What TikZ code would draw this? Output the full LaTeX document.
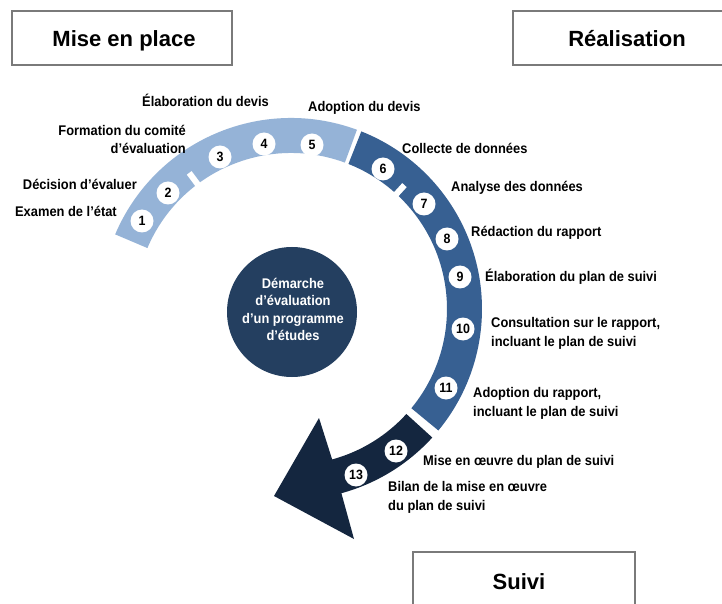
\documentclass[tikz,border=0pt]{standalone}
\usepackage{fontspec}
\setmainfont{Liberation Sans}
\newfontfamily\labfont{Liberation Sans}[FakeStretch=0.92]
\definecolor{lightb}{HTML}{95B3D7}
\definecolor{medb}{HTML}{376092}
\definecolor{navyb}{HTML}{14263F}
\definecolor{circb}{HTML}{243F60}
\definecolor{boxgray}{HTML}{7A7A7A}
\begin{document}
\begin{tikzpicture}[x=1pt,y=1pt,
  lbl/.style={font=\labfont\bfseries\fontsize{14}{18.5}\selectfont, inner sep=0pt, text=black},
  num/.style={circle, fill=white, minimum size=23pt, inner sep=0pt, font=\labfont\bfseries\fontsize{13.5}{14}\selectfont},
  hbox/.style={draw=boxgray, line width=1.2pt},
  head/.style={font=\bfseries\fontsize{22}{26}\selectfont, inner sep=0pt},
  notch/.style={white, line width=6pt}]
\clip (0,0) rectangle (722,603);
\fill[white] (0,0) rectangle (722,603);

% phase boxes
\draw[hbox] (12,538) rectangle (232,592);
\node[head, anchor=base] (h1) at (124,556) {Mise en place};
\draw[hbox] (513,538) rectangle (740,592);
\node[head, anchor=base] (h2) at (627,556) {Réalisation};
\draw[hbox] (413,-10) rectangle (635,51);
\node[head, anchor=base] (h3) at (519,14) {Suivi};

% band
\begin{scope}[shift={(291,294)}]
\fill[lightb] (157:191) arc[start angle=157, end angle=69.8, radius=191]
  -- (69.8:156) arc[start angle=69.8, end angle=157, radius=156] -- cycle;
\fill[medb] (68.4:191) arc[start angle=68.4, end angle=-39.5, radius=191]
  -- (-39.5:156) arc[start angle=-39.5, end angle=68.4, radius=156] -- cycle;
\fill[navyb] (-42.3:191) arc[start angle=-42.3, end angle=-74.7, radius=191]
  -- (63,-230) -- (-17,-187) -- (28,-109)
  -- (-74.7:156) arc[start angle=-74.7, end angle=-42.3, radius=156] -- cycle;
\draw[notch] (126.8:153) -- (126.8:170);
\draw[notch] (47.5:153) -- (47.5:168);
\end{scope}

% centre
\node[circle, fill=circb, minimum size=130pt, inner sep=0pt] (centre) at (292,291) {};
\node[lbl, text=white, align=center, font=\labfont\bfseries\fontsize{14}{17.4}\selectfont] (ctext) at (293,293.5)
  {Démarche\\d’évaluation\\d’un programme\\d’études};

% numbers
\node[num] (n1) at (142,382) {1};
\node[num] (n2) at (168,410) {2};
\node[num] (n3) at (220,446) {3};
\node[num] (n4) at (264,459) {4};
\node[num] (n5) at (312,458) {5};
\node[num] (n6) at (383,434) {6};
\node[num] (n7) at (424,399) {7};
\node[num] (n8) at (447,364) {8};
\node[num] (n9) at (460,326) {9};
\node[num] (n10) at (463,274) {10};
\node[num] (n11) at (446,215) {11};
\node[num] (n12) at (396,152) {12};
\node[num] (n13) at (356,128) {13};

% labels (multi-line nodes: base = last line)
\node[lbl, anchor=base east] (l1) at (117,386) {Examen de l’état};
\node[lbl, anchor=base east] (l2) at (137,413) {Décision d’évaluer};
\node[lbl, anchor=base east, align=right] (l3) at (186,449) {Formation du comité\\d’évaluation};
\node[lbl, anchor=base west] (l4) at (142,496) {Élaboration du devis};
\node[lbl, anchor=base west] (l5) at (308,491) {Adoption du devis};
\node[lbl, anchor=base west] (l6) at (402,449) {Collecte de données};
\node[lbl, anchor=base west] (l7) at (451,411) {Analyse des données};
\node[lbl, anchor=base west] (l8) at (471,366) {Rédaction du rapport};
\node[lbl, anchor=base west] (l9) at (485,321) {Élaboration du plan de suivi};
\node[lbl, anchor=base west, align=left] (l10) at (491,257) {Consultation sur le rapport,\\incluant le plan de suivi};
\node[lbl, anchor=base west, align=left] (l11) at (473,187) {Adoption du rapport,\\incluant le plan de suivi};
\node[lbl, anchor=base west] (l12) at (423,138) {Mise en œuvre du plan de suivi};
\node[lbl, anchor=base west, align=left] (l13) at (388,93) {Bilan de la mise en œuvre\\du plan de suivi};
\end{tikzpicture}
\end{document}
